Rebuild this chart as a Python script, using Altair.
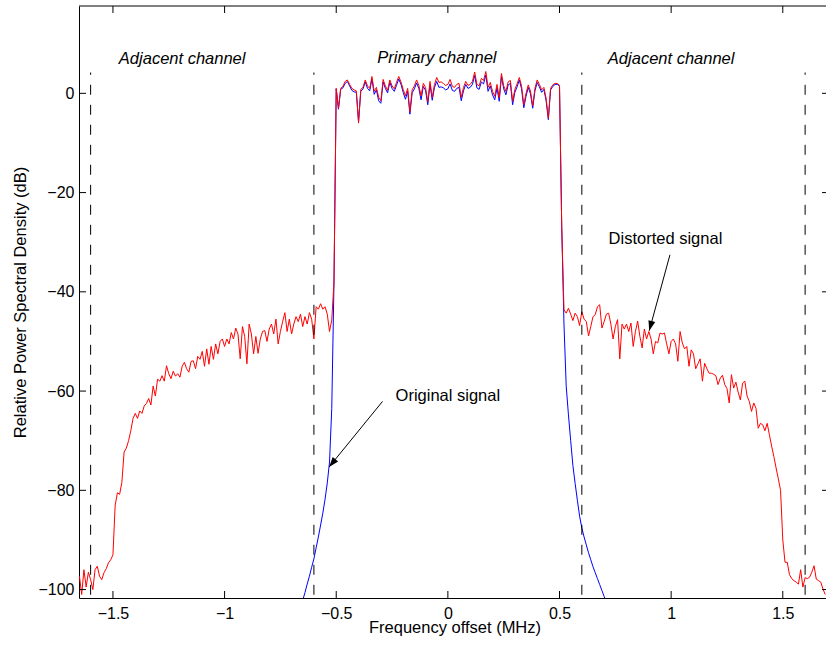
import altair as alt
import pandas as pd

# ---------------- data ----------------
# Distorted signal (red), sampled every 0.01 MHz
red_left = [  # -1.65 .. -0.51
    -97.3, -101.0, -96.0, -99.5, -96.5, -98.0, -100.0, -96.0, -95.3, -97.3,
    -98.0, -96.6, -95.8, -94.6, -94.0, -93.0, -83.0, -80.5, -80.8, -78.4,
    -72.3, -71.5, -70.0, -68.0, -65.5, -64.5, -65.5, -64.0, -64.5, -63.0,
    -62.5, -61.5, -62.8, -59.0, -61.0, -57.6, -58.0, -56.9, -58.0, -54.9,
    -56.5, -57.5, -56.0, -57.0, -56.5, -57.2, -55.0, -54.2, -55.5, -56.2,
    -54.0, -53.9, -55.5, -53.0, -53.6, -52.0, -55.0, -51.5, -54.6, -51.0,
    -53.6, -50.5, -52.5, -50.0, -49.5, -51.0, -49.5, -50.5, -48.2, -49.5,
    -47.3, -48.5, -53.5, -47.0, -49.0, -54.5, -46.5, -48.5, -52.5, -49.0,
    -52.4, -49.5, -48.0, -47.8, -50.0, -47.5, -46.5, -48.5, -45.5, -50.5,
    -48.0, -46.0, -44.2, -48.0, -45.5, -48.5, -46.5, -45.0, -46.0, -44.5,
    -47.0, -45.0, -46.5, -44.2, -45.5, -49.5, -43.0, -43.5, -42.4, -43.5,
    -43.0, -44.5, -48.0, -45.7, -38.0,
]
red_primary = [  # -0.50 .. 0.50
    1.0, -3.0, 1.0, 1.4, 2.4, 2.7, 1.8, 1.0, 0.7, 0.5,
    -6.0, 0.8, 1.2, 2.7, 1.5, 1.0, 3.4, 0.4, 1.2, -0.8,
    -1.5, 2.8, 1.5, 0.6, 2.7, 1.5, 0.9, 2.2, 3.4, 2.3,
    0.8, -0.5, 1.0, -3.7, 0.7, 1.5, 2.7, 1.6, -0.5, 2.0,
    1.2, -1.7, 2.4, -0.8, 1.8, 3.2, 2.2, 2.3, 2.0, 1.6,
    1.8, 2.8, 1.4, 1.2, 1.8, 2.0, -0.8, 1.2, 2.4, 1.6,
    1.8, 2.4, 4.3, 1.8, 1.5, 3.0, 2.6, 4.4, 1.2, 2.2,
    0.4, -0.6, 1.8, -0.9, 4.0, 1.5, 0.4, 2.3, 2.6, -1.6,
    0.8, 1.9, 3.2, 1.5, -2.3, 0.0, 1.7, 0.5, -2.5, 1.0,
    2.7, 1.8, 0.7, 1.2, -1.0, -5.0, 1.0, 1.7, 2.0, 2.0,
    1.6,
]
red_right = [  # 0.51 .. 1.69
    -27.0, -43.6, -44.3, -43.3, -44.5, -45.8, -44.3, -45.0, -46.8, -44.0,
    -45.5, -46.0, -48.9, -47.0, -45.0, -44.6, -43.0, -42.6, -47.3, -46.0,
    -44.5, -44.3, -46.5, -49.5, -47.0, -45.6, -53.5, -46.5, -47.5, -46.5,
    -48.0, -46.3, -51.0, -48.0, -45.9, -49.0, -51.3, -47.5, -49.5, -48.0,
    -49.5, -52.5, -50.0, -50.3, -48.3, -48.5, -48.3, -50.5, -52.5, -50.0,
    -49.5, -50.5, -54.0, -48.0, -50.3, -51.5, -51.0, -55.0, -51.7, -52.5,
    -55.5, -54.5, -53.5, -58.0, -54.4, -55.5, -56.4, -56.4, -56.6, -56.9,
    -58.7, -57.4, -56.8, -58.7, -59.5, -62.4, -56.7, -59.4, -58.2, -60.2,
    -61.8, -58.4, -58.0, -61.0, -62.1, -64.1, -62.4, -63.5, -67.5, -66.5,
    -66.8, -68.0, -66.5, -68.8, -71.1, -73.2, -75.5, -77.7, -80.0, -90.0,
    -94.5, -94.5, -97.0, -97.8, -98.2, -98.5, -98.9, -96.0, -99.5, -97.6,
    -97.8, -97.5, -96.5, -95.2, -97.9, -98.2, -98.5, -99.9, -101.0,
]

# Original signal (blue), sampled every 0.01 MHz
blue_left_skirt = [  # -0.66 .. -0.51
    -104.0, -102.2, -100.6, -98.9, -97.3, -95.5, -93.8, -91.6, -89.4, -87.0,
    -84.6, -81.8, -78.5, -74.3, -63.5, -38.0,
]
blue_primary = [  # -0.50 .. 0.50
    0.9, -3.2, 0.8, 1.1, 2.0, 2.4, 1.5, 0.6, 0.3, 0.2,
    -5.6, 0.4, 0.9, 2.3, 1.0, 0.5, 2.9, -0.2, 0.7, -1.5,
    -2.0, 2.3, 1.0, 0.1, 2.2, 1.0, 0.4, 1.6, 2.9, 1.8,
    0.2, -1.2, 0.4, -4.2, 0.1, 0.9, 2.1, 1.0, -1.3, 1.4,
    0.6, -2.3, 1.8, -1.4, 1.2, 2.4, 1.2, 1.3, 1.1, 0.7,
    0.9, 1.9, 0.6, 0.4, 1.0, 1.2, -1.5, 0.5, 1.8, 1.0,
    1.2, 1.8, 3.6, 1.1, 0.8, 2.3, 1.9, 3.7, 0.4, 1.5,
    -0.3, -1.3, 1.1, -1.6, 3.4, 0.9, -0.3, 1.7, 2.0, -2.3,
    0.2, 1.3, 2.7, 0.9, -2.9, -0.6, 1.2, -0.1, -3.0, 0.5,
    2.2, 1.3, 0.2, 0.8, -1.5, -5.3, 0.7, 1.4, 1.8, 1.8,
    1.5,
]
blue_right_skirt = [  # 0.51 .. 0.71
    -27.0, -46.5, -59.0, -64.8, -70.0, -75.0, -78.6, -82.0, -85.2, -87.6,
    -89.4, -91.0, -92.6, -94.0, -95.4, -96.6, -97.8, -99.0, -100.2, -101.4,
    -102.6,
]

channel_boundaries = [-1.6, -0.6, 0.6, 1.6]
boundary_top, boundary_bottom = 4.2, -101.7

x_ticks = [-1.5, -1, -0.5, 0, 0.5, 1, 1.5]
y_ticks = [-100, -80, -60, -40, -20, 0]

channel_labels = ["Adjacent channel", "Primary channel", "Adjacent channel"]
channel_label_x = [-1.19, -0.049, 1.0]
channel_label_y = [5.9, 6.1, 5.9]

signal_labels = ["Original signal", "Distorted signal"]
signal_label_x = [0.0, 0.9745]
signal_label_y = [-62.0, -30.3]

arrow_x1 = [-0.2926, 0.9946]
arrow_y1 = [-62.08, -32.54]
arrow_x2 = [-0.5318, 0.9019]
arrow_y2 = [-75.29, -47.85]
arrow_angle = [219, 195]

x_domain = [-1.652, 1.6935]
y_domain = [-101.7, 17.6]


def grid(start, n):
    return [round(start + 0.01 * i, 2) for i in range(n)]


red_df = pd.DataFrame({
    "x": grid(-1.65, len(red_left)) + grid(-0.50, len(red_primary)) + grid(0.51, len(red_right)),
    "y": red_left + red_primary + red_right,
})
blue_df = pd.DataFrame({
    "x": grid(-0.66, len(blue_left_skirt)) + grid(-0.50, len(blue_primary)) + grid(0.51, len(blue_right_skirt)),
    "y": blue_left_skirt + blue_primary + blue_right_skirt,
})
dash_df = pd.DataFrame({"x": channel_boundaries,
                        "y": [boundary_top] * len(channel_boundaries),
                        "y2": [boundary_bottom] * len(channel_boundaries)})
chan_df = pd.DataFrame({"label": channel_labels, "x": channel_label_x, "y": channel_label_y})
sig_df = pd.DataFrame({"label": signal_labels, "x": signal_label_x, "y": signal_label_y})
arrow_df = pd.DataFrame({"x": arrow_x1, "y": arrow_y1, "x2": arrow_x2, "y2": arrow_y2})
head_df = pd.DataFrame({"x": arrow_x2, "y": arrow_y2, "angle": arrow_angle})
xt_df = pd.DataFrame({"x": x_ticks})
yt_df = pd.DataFrame({"y": y_ticks})
one_df = pd.DataFrame({"a": [0]})

# ---------------- chart ----------------
W, H = 747, 592
FONT = "Liberation Sans"
xs = alt.Scale(domain=x_domain, nice=False, zero=False)
ys = alt.Scale(domain=y_domain, nice=False, zero=False)

x_axis = alt.Axis(values=x_ticks, format="~g", ticks=False, tickSize=0, grid=False,
                  domainColor="black", domainWidth=1, labelFont=FONT, labelFontSize=16,
                  labelColor="black", labelPadding=7, labelFlush=False, labelOverlap=False,
                  title="Frequency offset (MHz)", titleFont=FONT, titleFontSize=16.5,
                  titleFontWeight="normal", titleColor="black", titleX=375.5, titleY=34,
                  titleBaseline="alphabetic", titleAlign="center")
y_axis = alt.Axis(values=y_ticks, format="d", ticks=False, tickSize=0, grid=False,
                  domainColor="black", domainWidth=1, labelFont=FONT, labelFontSize=16,
                  labelColor="black", labelPadding=5, labelFlush=False, labelOverlap=False,
                  title="Relative Power Spectral Density (dB)", titleFont=FONT,
                  titleFontSize=16.5, titleFontWeight="normal", titleColor="black",
                  titleAngle=270, titleX=-59, titleY=296, titleBaseline="middle",
                  titleAlign="center")

X = alt.X("x:Q", scale=xs, axis=x_axis)
Y = alt.Y("y:Q", scale=ys, axis=y_axis)

blue = alt.Chart(blue_df).mark_line(color="#0000ff", strokeWidth=1, clip=True).encode(x=X, y=Y)
red = alt.Chart(red_df).mark_line(color="#ff0000", strokeWidth=1, clip=True).encode(x=X, y=Y)

dashes = alt.Chart(dash_df).mark_rule(color="black", strokeWidth=1, strokeDash=[10, 10],
                                      strokeDashOffset=7.7, clip=True).encode(
    x=X, y=Y, y2="y2:Q")

bottom_ticks = alt.Chart(xt_df).mark_rule(color="black", strokeWidth=1).encode(
    x=X, y=alt.value(H), y2=alt.value(H - 7))
top_ticks = alt.Chart(xt_df).mark_rule(color="black", strokeWidth=1).encode(
    x=X, y=alt.value(0), y2=alt.value(7))
left_ticks = alt.Chart(yt_df).mark_rule(color="black", strokeWidth=1).encode(
    y=Y, x=alt.value(0), x2=alt.value(7))
right_ticks = alt.Chart(yt_df).mark_rule(color="black", strokeWidth=1).encode(
    y=Y, x=alt.value(W - 4), x2=alt.value(W))
top_line = alt.Chart(one_df).mark_rule(color="black", strokeWidth=1).encode(
    x=alt.value(0), x2=alt.value(W), y=alt.value(0))

arrow_lines = alt.Chart(arrow_df).mark_rule(color="black", strokeWidth=1).encode(
    x=X, y=Y, x2="x2:Q", y2="y2:Q")
arrow_heads = alt.Chart(head_df).mark_point(
    shape="M0,0L-0.7,2L0.7,2Z", filled=True, color="black", size=100, opacity=1,
    strokeWidth=0).encode(x=X, y=Y, angle=alt.Angle("angle:Q", scale=None))

chan_text = alt.Chart(chan_df).mark_text(font=FONT, fontSize=16.5, fontStyle="italic",
                                         align="center", baseline="alphabetic",
                                         color="black").encode(x=X, y=Y, text="label:N")
sig_text = alt.Chart(sig_df).mark_text(font=FONT, fontSize=16.5, align="center",
                                       baseline="alphabetic", color="black").encode(
    x=X, y=Y, text="label:N")

chart = alt.layer(
    blue, red, dashes, bottom_ticks, top_ticks, left_ticks, right_ticks, top_line,
    arrow_lines, arrow_heads, chan_text, sig_text,
).properties(
    width=W, height=H,
    autosize=alt.AutoSizeParams(type="none"),
    padding={"left": 79, "top": 6, "right": 0, "bottom": 51},
    background="white",
).configure_view(strokeWidth=0)

chart.save("out.html", embed_options={"renderer": "svg", "actions": False})
